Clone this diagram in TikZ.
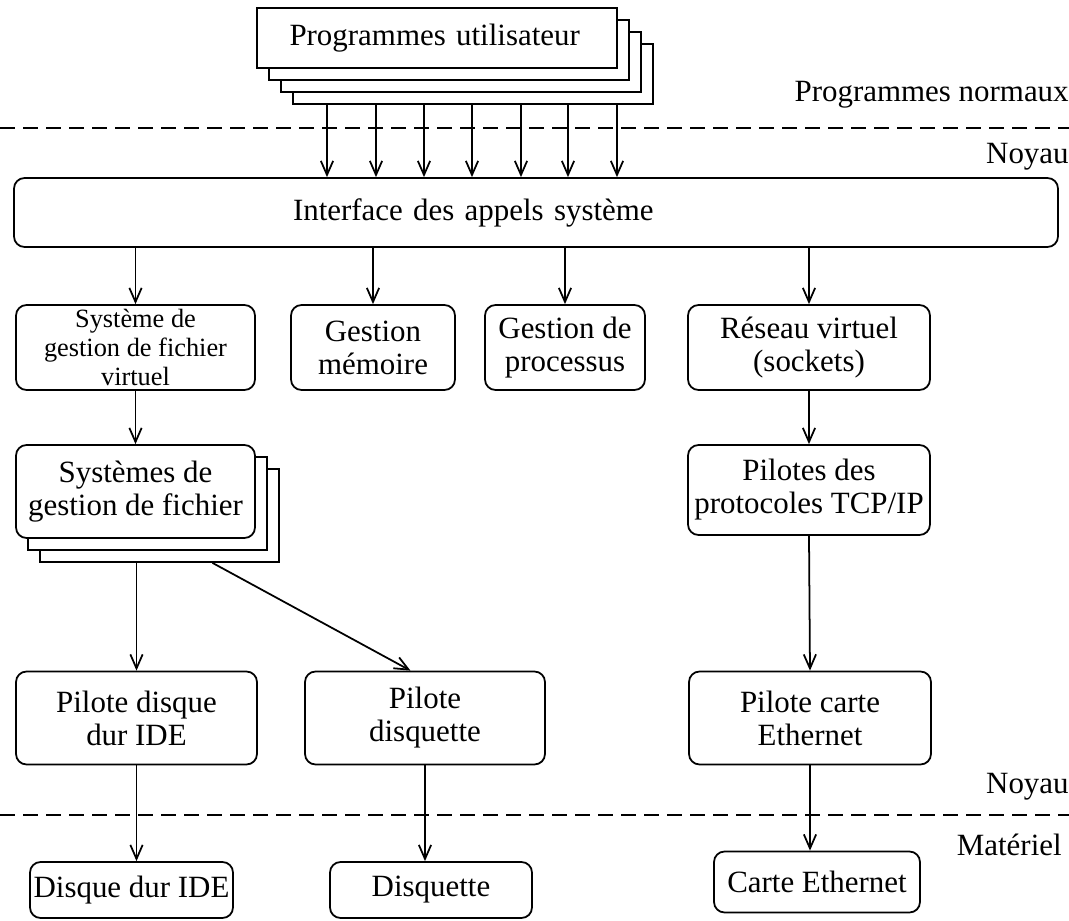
\documentclass[tikz,border=0pt]{standalone}
\usepackage{fontspec}
\setmainfont{Liberation Serif}
\usetikzlibrary{calc,arrows.meta}

\begin{document}
\begin{tikzpicture}[%
    >={Straight Barb[length=8pt,width=7pt]},
    box/.style={
      rectangle,
      draw,
      line width=1pt,
      fill=white,
      rounded corners=6pt,
      align=center,
      inner sep=0pt,
      font=\fontsize{17.6}{18.8}\selectfont,
      minimum height=1.7cm
    },
    sheet/.style={
      rectangle,
      draw,
      line width=1pt,
      fill=white,
      inner sep=0pt,
      font=\fontsize{17.6}{18.8}\selectfont,
      minimum width=7.2cm,
      minimum height=1.2cm
    },
    layerName/.style={
      anchor=east,
      inner sep=0pt,
      font=\fontsize{17.6}{18.8}\selectfont
    },
    link/.style={->, line width=1pt},
    border/.style={line width=1pt, dash pattern=on 0.3cm off 0.16cm}
  ]
    \useasboundingbox (0,0) rectangle (21.38,-18.42);

    % Programmes utilisateur (pile)
    \node[sheet] (U3) at (9.46,-1.48) {};
    \node[sheet] (U2) at (9.22,-1.24) {};
    \node[sheet] (U1) at (8.98,-1.00) {};
    \node[sheet, text width=5.9cm, align=left] (U) at (8.74,-0.76) {Programmes utilisateur};

    % Separations
    \draw[border] (0,-2.56) -- (21.38,-2.56);
    \draw[border] (0,-16.3) -- (21.38,-16.3);

    \node[layerName] (normaux)   at (21.38,-1.9)  {Programmes normaux};
    \node[layerName] (noyauHaut) at (21.38,-3.14) {Noyau};
    \node[layerName] (noyauBas)  at (21.38,-15.74) {Noyau};
    \node[layerName] (materiel)  at (21.24,-16.9) {Matériel};

    % Systemes de gestion de fichier (pile)
    \node[box, rounded corners=0pt, minimum width=4.78cm, minimum height=1.86cm] (S2) at (3.19,-10.31) {};
    \node[box, rounded corners=0pt, minimum width=4.78cm, minimum height=1.86cm] (S1) at (2.95,-10.07) {};
    \node[box, minimum width=4.78cm, minimum height=1.86cm] (S) at (2.71,-9.83) {Systèmes de\\gestion de fichier};

    \draw (10.72,-4.25)  node[box, minimum width=20.88cm, minimum height=1.38cm, text width=9.72cm, align=left] (I) {Interface des appels système}
          (2.71,-6.95)   node[box, minimum width=4.78cm, font=\fontsize{15}{16.6}\selectfont] (F) {Système de\\gestion de fichier\\virtuel}
          (7.46,-6.95)   node[box, minimum width=3.28cm] (M) {Gestion\\mémoire}
          (11.3,-6.95)   node[box, minimum width=3.2cm]  (P) {Gestion de\\processus}
          (16.18,-6.95)  node[box, minimum width=4.84cm] (R) {Réseau virtuel\\(sockets)}
          (16.18,-9.8)   node[box, minimum width=4.84cm, minimum height=1.8cm] (T) {Pilotes des\\protocoles TCP/IP}
          (2.73,-14.36)  node[box, minimum width=4.82cm, minimum height=1.86cm] (D) {Pilote disque\\dur IDE}
          (8.5,-14.36)   node[box, minimum width=4.8cm, minimum height=1.86cm]  (Q) {Pilote\\disquette}
          (16.2,-14.36)  node[box, minimum width=4.84cm, minimum height=1.86cm] (E) {Pilote carte\\Ethernet}
          (2.63,-17.8)   node[box, minimum width=4.06cm, minimum height=1.12cm] (HD) {Disque dur IDE}
          (8.62,-17.8)   node[box, minimum width=4.04cm, minimum height=1.12cm] (HQ) {Disquette}
          (16.34,-17.64) node[box, minimum width=4.12cm, minimum height=1.22cm] (HE) {Carte Ethernet};

    % Appels systeme
    \foreach \x in {6.54,7.52,8.48,9.44,10.42,11.36,12.34}
      \draw[link] (U3.south -| \x,0) -- (I.north -| \x,0);

    \draw[link] (I.south -| F.north) -- (F.north);
    \draw[link] (I.south -| M.north) -- (M.north);
    \draw[link] (I.south -| P.north) -- (P.north);
    \draw[link] (I.south -| R.north) -- (R.north);

    \draw[link] (F.south) -- (S.north);
    \draw[link] (S2.south -| D.north) -- (D.north);
    \draw[link] ($(S2.south west)!0.72!(S2.south east)$) -- ($(Q.north west)!0.44!(Q.north east)$);
    \draw[link] (R.south) -- (T.north);
    \draw[link] (T.south) -- (E.north);

    % Materiel
    \draw[link] (D.south) -- (D.south |- HD.north);
    \draw[link] (Q.south) -- (Q.south |- HQ.north);
    \draw[link] (E.south) -- (E.south |- HE.north);
\end{tikzpicture}
\end{document}
